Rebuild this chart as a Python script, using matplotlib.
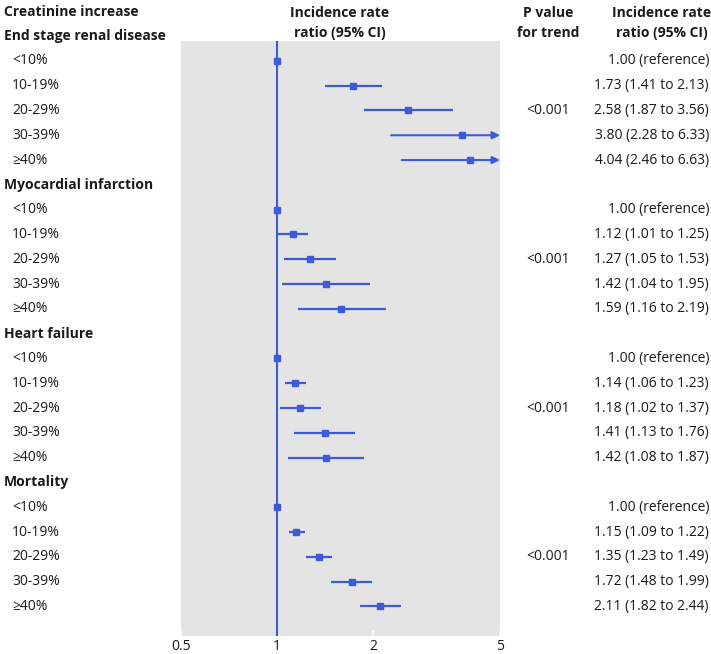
import numpy as np
import matplotlib
matplotlib.use('Agg')
import matplotlib.pyplot as plt
from matplotlib.transforms import blended_transform_factory

plt.rcParams['font.family'] = ['Open Sans', 'DejaVu Sans']

# data
groups = ['End stage renal disease', 'Myocardial infarction', 'Heart failure', 'Mortality']
levels = ['<10%', '10-19%', '20-29%', '30-39%', '≥40%']
irr = [[1.00, 1.73, 2.58, 3.80, 4.04],
       [1.00, 1.12, 1.27, 1.42, 1.59],
       [1.00, 1.14, 1.18, 1.41, 1.42],
       [1.00, 1.15, 1.35, 1.72, 2.11]]
ci_low = [[1.00, 1.41, 1.87, 2.28, 2.46],
          [1.00, 1.01, 1.05, 1.04, 1.16],
          [1.00, 1.06, 1.02, 1.13, 1.08],
          [1.00, 1.09, 1.23, 1.48, 1.82]]
ci_high = [[1.00, 2.13, 3.56, 6.33, 6.63],
           [1.00, 1.25, 1.53, 1.95, 2.19],
           [1.00, 1.23, 1.37, 1.76, 1.87],
           [1.00, 1.22, 1.49, 1.99, 2.44]]
p_trend = ['<0.001', '<0.001', '<0.001', '<0.001']
xticks = [0.5, 1, 2, 5]
xticklabels = ['0.5', '1', '2', '5']

BLUE = '#3b5bdb'
PANEL = '#e4e4e4'
XMAX = 5
FS = 10

fig = plt.figure(figsize=(7.11, 6.54), dpi=100)
ax = fig.add_axes([181/711, 18/654, 319/711, 595/654])
ax.set_facecolor(PANEL)
for s in ax.spines.values():
    s.set_visible(False)
ax.set_xscale('log')
ax.set_xlim(0.5, XMAX)
ax.set_ylim(24.19, 0.2)
ax.set_xticks(xticks)
ax.set_xticklabels(xticklabels)
ax.xaxis.set_minor_locator(matplotlib.ticker.NullLocator())
ax.tick_params(axis='x', direction='in', length=4, color='white', width=1.2,
               labelsize=FS, pad=2.5, labelcolor='#1a1a1a')
ax.set_yticks([])

ax.axvline(1, color=BLUE, lw=1.5, zorder=2)

trL = blended_transform_factory(fig.transFigure, ax.transData)
txt = '#1a1a1a'

row = 0
for g, name in enumerate(groups):
    ax.text(4/711, row, name, transform=trL, ha='left', va='center',
            fontsize=FS, fontweight='bold', color=txt, clip_on=False)
    row += 1
    for k, lev in enumerate(levels):
        est, lo, hi = irr[g][k], ci_low[g][k], ci_high[g][k]
        ax.text(12/711, row, lev, transform=trL, ha='left', va='center',
                fontsize=FS, color=txt, clip_on=False)
        if hi > XMAX:
            ax.annotate('', xy=(XMAX, row), xytext=(lo, row),
                        arrowprops=dict(arrowstyle='-|>', color=BLUE, lw=1.5,
                                        mutation_scale=11, shrinkA=0, shrinkB=0),
                        annotation_clip=False, zorder=3)
        elif hi > lo:
            ax.plot([lo, hi], [row, row], color=BLUE, lw=1.6, zorder=3,
                    solid_capstyle='butt')
        ax.plot(est, row, 's', color=BLUE, ms=5, zorder=4)
        if k == 0:
            lab = '1.00 (reference)'
        else:
            lab = f'{est:.2f} ({lo:.2f} to {hi:.2f})'
        ax.text(709/711, row, lab, transform=trL, ha='right', va='center',
                fontsize=FS, color=txt, clip_on=False)
        if k == 2:
            ax.text(548/711, row, p_trend[g], transform=trL, ha='center', va='center',
                    fontsize=FS, color=txt, clip_on=False)
        row += 1

# headers
fig.text(4/711, 1 - 12/654, 'Creatinine increase', ha='left', va='center',
         fontsize=FS, fontweight='bold', color=txt)
fig.text(340/711, 1 - 23/654, 'Incidence rate\nratio (95% CI)', ha='center', va='center',
         fontsize=FS, fontweight='bold', color=txt, linespacing=1.6)
fig.text(548/711, 1 - 23/654, 'P value\nfor trend', ha='center', va='center',
         fontsize=FS, fontweight='bold', color=txt, linespacing=1.6)
fig.text(662/711, 1 - 23/654, 'Incidence rate\nratio (95% CI)', ha='center', va='center',
         fontsize=FS, fontweight='bold', color=txt, linespacing=1.6)

fig.savefig('out.png', dpi=100)
